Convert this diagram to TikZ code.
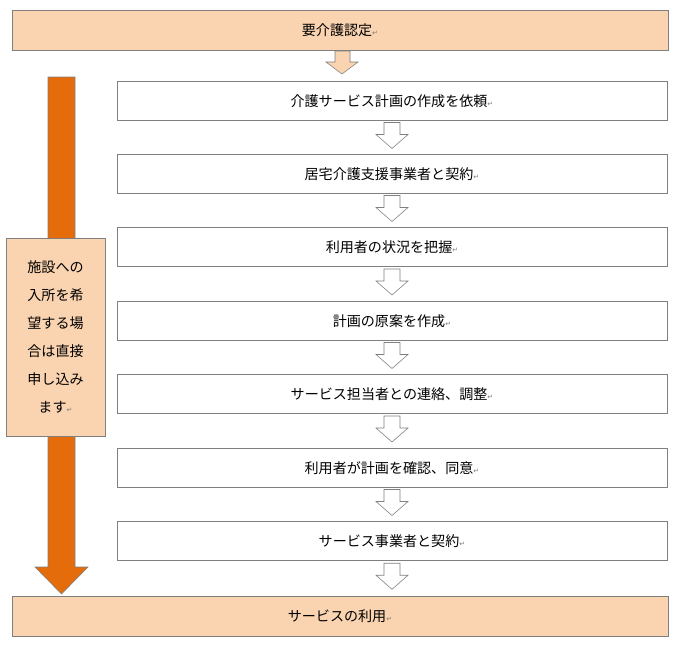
\documentclass[tikz,border=0pt]{standalone}
\usepackage{fontspec}
\setmainfont{Noto Sans CJK JP}
\newfontfamily\symfont{DejaVu Sans}
\usetikzlibrary{positioning}
\definecolor{peach}{HTML}{FAD3B0}
\definecolor{boxline}{HTML}{7F7F7F}
\definecolor{flow}{HTML}{E46C0A}
\newcommand{\ret}{{\symfont\color{gray}\tiny ↵}}
\tikzset{
  stepbox/.style={draw=boxline, fill=white, minimum width=13.75cm, minimum height=0.975cm, font=\fontsize{10}{12}\selectfont},
  endbox/.style={draw=boxline, fill=peach, minimum width=16.4cm, minimum height=1cm, font=\fontsize{10}{12}\selectfont},
  hollow/.style={draw=boxline, fill=white},
}
\begin{document}
\begin{tikzpicture}[x=0.025cm,y=-0.025cm]
    \useasboundingbox (0,0) rectangle (680,665);
    % top and bottom
    \node[endbox] (need) at (340,30) {要介護認定\ret};
    \node[endbox] (use) at (340,616) {サービスの利用\ret};
    % arrow below the top box
    \draw[boxline, fill=peach] (335,51) -- (350,51) -- (350,62) -- (358,62) -- (342,74) -- (326,62) -- (335,62) -- cycle;
    % steps
    \node[stepbox] (s1) at (392,101) {介護サービス計画の作成を依頼\ret};
    \node[stepbox] (s2) at (392,174) {居宅介護支援事業者と契約\ret};
    \node[stepbox] (s3) at (392,247) {利用者の状況を把握\ret};
    \node[stepbox] (s4) at (392,321) {計画の原案を作成\ret};
    \node[stepbox] (s5) at (392,394) {サービス担当者との連絡、調整\ret};
    \node[stepbox] (s6) at (392,468) {利用者が計画を確認、同意\ret};
    \node[stepbox] (s7) at (392,541) {サービス事業者と契約\ret};
    % hollow arrows
    \foreach \a/\b in {s1/s2,s2/s3,s3/s4,s4/s5,s5/s6,s6/s7,s7/use}{
        \path (\a.south) -- (\b.north -| \a.south) coordinate[pos=0.5] (m);
        \draw[hollow] ([shift={(-8,-15)}]m) -- ++(16,0) -- ++(0,12) -- ++(8,0) -- ++(-16,14) -- ++(-16,-14) -- ++(8,0) -- cycle;
    }
    % orange arrow
    \draw[boxline, fill=flow] (48,77) -- (75,77) -- (75,567) -- (88,567) -- (61.5,594) -- (35,567) -- (48,567) -- cycle;
    \node[draw=boxline, fill=peach, minimum width=2.475cm, minimum height=4.95cm, align=center, font=\fontsize{10}{20}\selectfont] (direct) at (55.5,337) {施設への\\入所を希\\望する場\\合は直接\\申し込み\\ます\ret};
\end{tikzpicture}
\end{document}
